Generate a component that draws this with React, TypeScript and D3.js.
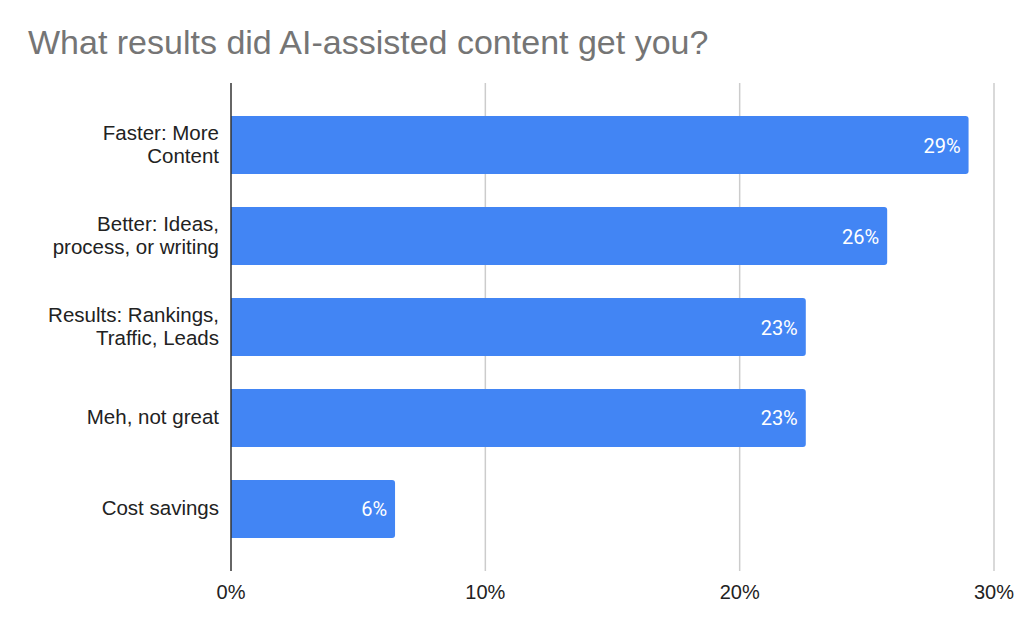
import React from "react";
import * as d3 from "d3";

const categories: string[][] = [
  ["Faster: More", "Content"],
  ["Better: Ideas,", "process, or writing"],
  ["Results: Rankings,", "Traffic, Leads"],
  ["Meh, not great"],
  ["Cost savings"],
];
const values: number[] = [29.0, 25.8, 22.6, 22.6, 6.45];
const valueLabels: string[] = ["29%", "26%", "23%", "23%", "6%"];
const xTicks: number[] = [0, 10, 20, 30];
const title = "What results did AI-assisted content get you?";

const W = 1024;
const H = 629;
const left = 231;
const right = 994;
const top = 83;
const bottom = 571;
const FONT = "'Liberation Sans', Arial, Helvetica, sans-serif";

export default function App() {
  const x = d3.scaleLinear().domain([0, 30]).range([left, right]);
  const keys = categories.map((c) => c.join(" "));
  const y = d3.scaleBand<string>().domain(keys).range([top, bottom]).padding(0.363);
  const bw = y.bandwidth();
  const r = 3;

  const barPath = (v: number, y0: number) => {
    const x0 = x(0);
    const x1 = x(v);
    const p = d3.path();
    p.moveTo(x0, y0);
    p.lineTo(x1 - r, y0);
    p.arcTo(x1, y0, x1, y0 + r, r);
    p.lineTo(x1, y0 + bw - r);
    p.arcTo(x1, y0 + bw, x1 - r, y0 + bw, r);
    p.lineTo(x0, y0 + bw);
    p.closePath();
    return p.toString();
  };

  return (
    <svg
      width={W}
      height={H}
      style={{ position: "absolute", left: 0, top: 0, background: "#fff" }}
    >
      <text x={28} y={54} fontFamily={FONT} fontSize={34} fill="#757575">
        {title}
      </text>
      {xTicks.map((t) =>
        t === 0 ? null : (
          <line key={"g" + t} x1={x(t)} x2={x(t)} y1={top} y2={bottom} stroke="#cccccc" strokeWidth={1.5} />
        )
      )}
      {values.map((v, i) => (
        <path key={"b" + i} d={barPath(v, y(keys[i])!)} fill="#4285f4" />
      ))}
      <line x1={x(0)} x2={x(0)} y1={top} y2={bottom} stroke="#333333" strokeWidth={1.5} />
      {categories.map((lines, i) => {
        const cy = y(keys[i])! + bw / 2;
        const lh = 22.5;
        const start = cy + 6.5 - ((lines.length - 1) * lh) / 2;
        return (
          <g key={"c" + i}>
            {lines.map((l, j) => (
              <text
                key={j}
                x={219}
                y={start + j * lh}
                textAnchor="end"
                fontFamily={FONT}
                fontSize={20.5}
                fill="#222"
              >
                {l}
              </text>
            ))}
          </g>
        );
      })}
      {values.map((v, i) => (
        <text
          key={"v" + i}
          x={x(v) - 8}
          y={y(keys[i])! + bw / 2 + 7.5}
          textAnchor="end"
          fontFamily="Roboto, sans-serif"
          fontSize={20}
          fill="#ffffff"
        >
          {valueLabels[i]}
        </text>
      ))}
      {xTicks.map((t) => (
        <text key={"t" + t} x={x(t)} y={599} textAnchor="middle" fontFamily={FONT} fontSize={20} fill="#222">
          {t + "%"}
        </text>
      ))}
    </svg>
  );
}
